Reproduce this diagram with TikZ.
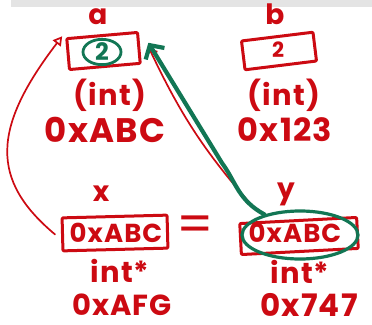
\documentclass[tikz,border=0pt]{standalone}
\usepackage{fontspec}
\newfontfamily\hand{Poppins}[LetterSpace=4]
\usetikzlibrary{shapes.geometric,arrows.meta}
\definecolor{pen}{RGB}{204,10,18}
\definecolor{ink}{RGB}{18,118,84}
\definecolor{bar}{RGB}{228,228,228}
\begin{document}
\begin{tikzpicture}[x=1pt,y=1pt,
  lbl/.style={text=pen, inner sep=0pt, font=\hand\bfseries\fontsize{#1}{#1}\selectfont},
  box/.style={draw=pen, line width=3pt, line join=round, rounded corners=1pt, inner sep=0pt},
  thin/.style={pen, line width=1.7pt, line cap=round},
  thick/.style={ink, line width=4.2pt, line cap=round, line join=round}]
\useasboundingbox (0,-324) rectangle (372,0);
\fill[bar] (11,-7) rectangle (372,0);

% variable boxes
\node[box, minimum width=71pt, minimum height=31pt, rotate=5] (ba) at (103.5,-51) {};
\node[box, minimum width=72pt, minimum height=29pt, rotate=7] (bb) at (279,-51) {};
\node[box, minimum width=105pt, minimum height=33pt, rotate=1.5] (bx) at (115,-233) {};
\node[box, minimum width=117pt, minimum height=31pt, rotate=3] (by) at (299,-236) {};

% names
\node[lbl=28] (la) at (98,-17) {a};
\node[lbl=28] (lb) at (275,-14) {b};
\node[lbl=28] (lx) at (101,-194) {x};
\node[lbl=28] (ly) at (286,-194) {y};

% contents
\node[lbl=24, text=ink, ellipse, draw=ink, line width=2.8pt,
      minimum width=38pt, minimum height=25pt] (c2) at (102,-52) {2};
\node[lbl=21] (vb) at (278,-50) {2};
\node[lbl=26] (vx) at (116,-233) {0xABC};
\node[lbl=26] (vy) at (295,-233) {0xABC};

% types and addresses
\node[lbl=29] (ta) at (110,-95) {(int)};
\node[lbl=29] (tb) at (284,-95) {(int)};
\node[lbl=34] (aa) at (105,-130) {0xABC};
\node[lbl=32] (ab) at (285,-130) {0x123};
\node[lbl=29] (tx) at (120,-271) {int*};
\node[lbl=29] (ty) at (300,-272) {int*};
\node[lbl=29] (ax) at (122,-305) {0xAFG};
\node[lbl=31] (ay) at (309,-305) {0x747};
\node[lbl=52, font=\hand\fontsize{52}{52}\selectfont] (eq) at (195,-229) {=};

% pointer x refers to a
\draw[thin, -{Triangle[open,length=9pt,width=10pt]}]
  ([xshift=-6pt]bx.west) .. controls (-10,-180) and (-8,-128) .. ([shift={(-3pt,1pt)}]ba.north west);

% y copies the address
\coordinate (ytail) at ([shift={(16pt,14pt)}]by.north west);
\draw[thin, -{Straight Barb[length=5pt,width=12pt]}]
  (ytail) to[bend left=8] ([shift={(9pt,-1pt)}]ba.east);

% highlight of y's value and where it leads
\node[draw=ink, line width=3.2pt, ellipse, minimum width=116pt, minimum height=48pt, inner sep=0pt] (ey) at (300,-235) {};
\draw[thick, -{Straight Barb[length=10pt,width=22pt]}]
  (ey.150) .. controls (238,-200) and (236,-182) .. (222,-163) -- ([shift={(8pt,5pt)}]ba.east);
\end{tikzpicture}
\end{document}
